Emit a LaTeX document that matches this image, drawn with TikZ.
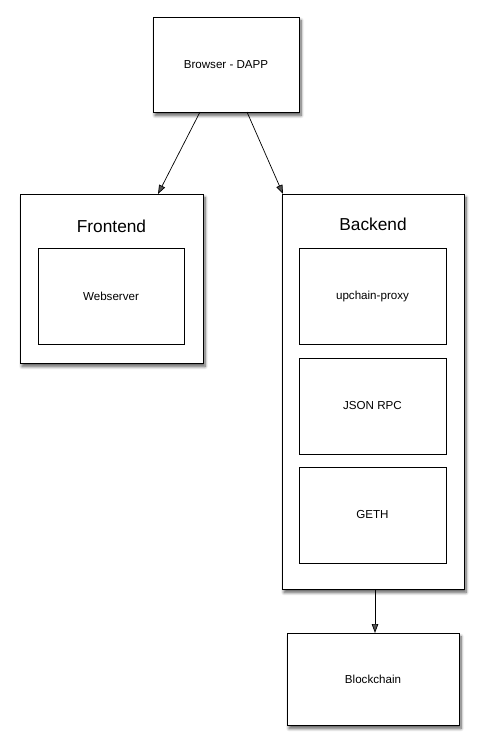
\documentclass[tikz,border=0pt]{standalone}
\usepackage{fontspec}
\setmainfont{Liberation Sans}
\usetikzlibrary{shadows.blur,arrows.meta}
\begin{document}
\begin{tikzpicture}[x=1pt,y=-1pt,
  box/.style={draw=black,line width=0.9pt,fill=white,blur shadow={shadow xshift=2pt,shadow yshift=-3.5pt,shadow blur radius=3pt,shadow blur steps=8,shadow opacity=65}},
  inner/.style={draw=black,line width=0.9pt,fill=white},
  lbl/.style={font=\fontsize{11.6}{14}\selectfont},
  ttl/.style={font=\fontsize{17.3}{20}\selectfont},
  arr/.style={-{Triangle[length=9pt,width=6.5pt]},line width=0.7pt}]
\useasboundingbox (0,0) rectangle (484,749);
% Browser
\path[box] (153,17) rectangle (299,112);
\node[lbl] (browser) at (226,64.5) {Browser - DAPP};
\coordinate (bl) at (200,112);
\coordinate (br) at (247,112);
% Frontend
\path[box] (20,194) rectangle (203,363);
\node[ttl] (front) at (111.5,226) {Frontend};
\draw[inner] (38,248) rectangle (184,344);
\node[lbl] (web) at (111,296) {Webserver};
\coordinate (ft) at (158,194);
% Backend
\path[box] (282,194) rectangle (464,589);
\node[ttl] (back) at (373,224) {Backend};
\draw[inner] (299,248) rectangle (446,344);
\node[lbl] (proxy) at (372.5,296) {upchain-proxy};
\draw[inner] (299,358) rectangle (446,454);
\node[lbl] (rpc) at (372.5,406) {JSON RPC};
\draw[inner] (299,467) rectangle (446,563);
\node[lbl] (geth) at (372.5,515) {GETH};
\coordinate (bt) at (283,194);
\coordinate (bb) at (375,589);
% Blockchain
\path[box] (287,633) rectangle (459,725);
\node[lbl] (chain) at (373,679) {Blockchain};
\coordinate (ct) at (375,633);
% arrows
\draw[arr] (bl) -- (ft);
\draw[arr] (br) -- (bt);
\draw[arr] (bb) -- (ct);
\end{tikzpicture}
\end{document}
